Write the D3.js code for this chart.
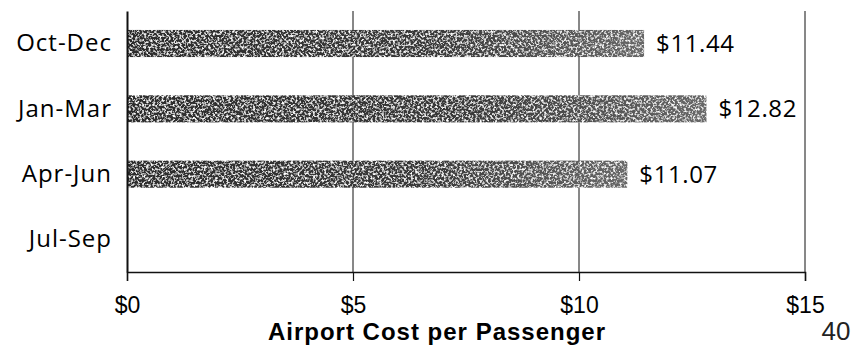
<!DOCTYPE html>
<html>
<head>
<meta charset="utf-8">
<script src="https://cdn.jsdelivr.net/npm/d3@7"></script>
<style>
  html, body { margin: 0; padding: 0; background: #fff; }
  svg { display: block; font-family: "Open Sans", "Noto Sans", sans-serif; }
</style>
</head>
<body>
<svg id="chart" width="866" height="346"></svg>
<script>
// Quarterly airport cost per passenger (Jul-Sep has no value)
const quarters = ["Oct-Dec", "Jan-Mar", "Apr-Jun", "Jul-Sep"];
const costs = [11.44, 12.82, 11.07, null];
const tickValues = [0, 5, 10, 15];
const axisTitle = "Airport Cost per Passenger";
const pageNumber = "40";

(function () {
const svg = d3.select("#chart");
const plotLeft = 127, plotRight = 805, plotTop = 11, plotBottom = 272;
const textFont = '"Open Sans", "Noto Sans", sans-serif';
const compactFont = '"Liberation Sans", Arial, sans-serif';

const x = d3.scaleLinear().domain([0, 15]).range([plotLeft, plotRight]);
const y = d3.scaleBand().domain(quarters).range([plotTop, plotBottom]).paddingInner(0.585).paddingOuter(0.29);

// Grainy fill for the bars
const defs = svg.append("defs");
const grad = defs.append("linearGradient").attr("id", "barShade").attr("x1", 0).attr("x2", 1);
grad.append("stop").attr("offset", 0).attr("stop-color", "#2c2c2c");
grad.append("stop").attr("offset", 0.6).attr("stop-color", "#3a3a3a");
grad.append("stop").attr("offset", 1).attr("stop-color", "#686868");

const f = defs.append("filter").attr("id", "grain")
  .attr("x", 0).attr("y", 0).attr("width", 1).attr("height", 1);
f.append("feTurbulence").attr("type", "fractalNoise").attr("baseFrequency", 0.45)
  .attr("numOctaves", 3).attr("seed", 7).attr("result", "noise");
f.append("feColorMatrix").attr("in", "noise").attr("type", "matrix")
  .attr("values", "0 0 0 0 1  0 0 0 0 1  0 0 0 0 1  3.4 0 0 0 -1.6")
  .attr("result", "speck");
f.append("feComposite").attr("in", "speck").attr("in2", "SourceGraphic").attr("operator", "atop");

// Vertical gridlines at each tick
svg.append("g").selectAll("line").data(tickValues.slice(1)).join("line")
  .attr("x1", d => x(d)).attr("x2", d => x(d))
  .attr("y1", plotTop).attr("y2", plotBottom)
  .attr("stroke", "#111").attr("stroke-width", 1);

// Bars
const rows = quarters.map((q, i) => ({ q, v: costs[i] })).filter(d => d.v != null);
svg.append("g").selectAll("rect").data(rows).join("rect")
  .attr("x", x(0))
  .attr("y", d => y(d.q))
  .attr("width", d => x(d.v) - x(0))
  .attr("height", y.bandwidth())
  .attr("fill", "url(#barShade)")
  .attr("filter", "url(#grain)");

// Value labels
svg.append("g").selectAll("text").data(rows).join("text")
  .attr("x", d => x(d.v) + 12)
  .attr("y", d => y(d.q) + y.bandwidth() / 2)
  .attr("dy", "0.36em")
  .style("font-family", textFont)
  .style("font-size", "24px")
  .style("letter-spacing", "0.6px")
  .attr("fill", "#000")
  .text(d => "$" + d.v.toFixed(2));

// Bottom axis
const xAxis = d3.axisBottom(x).tickValues(tickValues).tickSize(9).tickPadding(15.5)
  .tickFormat(d => "$" + d);
const gx = svg.append("g").attr("transform", `translate(0,${plotBottom})`).call(xAxis);
gx.select(".domain").attr("stroke", "#111").attr("stroke-width", 1.5);
gx.selectAll(".tick line").attr("stroke", "#111").attr("stroke-width", 1.2);
gx.selectAll(".tick text").style("font-size", "23px").style("font-family", compactFont).attr("fill", "#000");

// Left axis (category labels)
const yAxis = d3.axisLeft(y).tickSize(0).tickPadding(15);
const gy = svg.append("g").attr("transform", `translate(${plotLeft},0)`).call(yAxis);
gy.select(".domain").attr("stroke", "#111").attr("stroke-width", 2);
gy.selectAll(".tick text").style("font-size", "24px").style("letter-spacing", "1px")
  .style("font-family", textFont).attr("fill", "#000");

// Axis title
svg.append("text").attr("x", 437).attr("y", 340).attr("text-anchor", "middle")
  .style("font-family", compactFont).style("letter-spacing", "1px")
  .style("font-size", "24px").style("font-weight", "bold").attr("fill", "#000").text(axisTitle);

// Page number
svg.append("text").attr("x", 836).attr("y", 340).attr("text-anchor", "middle")
  .style("font-family", compactFont)
  .style("font-size", "26px").attr("fill", "#222").text(pageNumber);
})();
</script>
</body>
</html>
